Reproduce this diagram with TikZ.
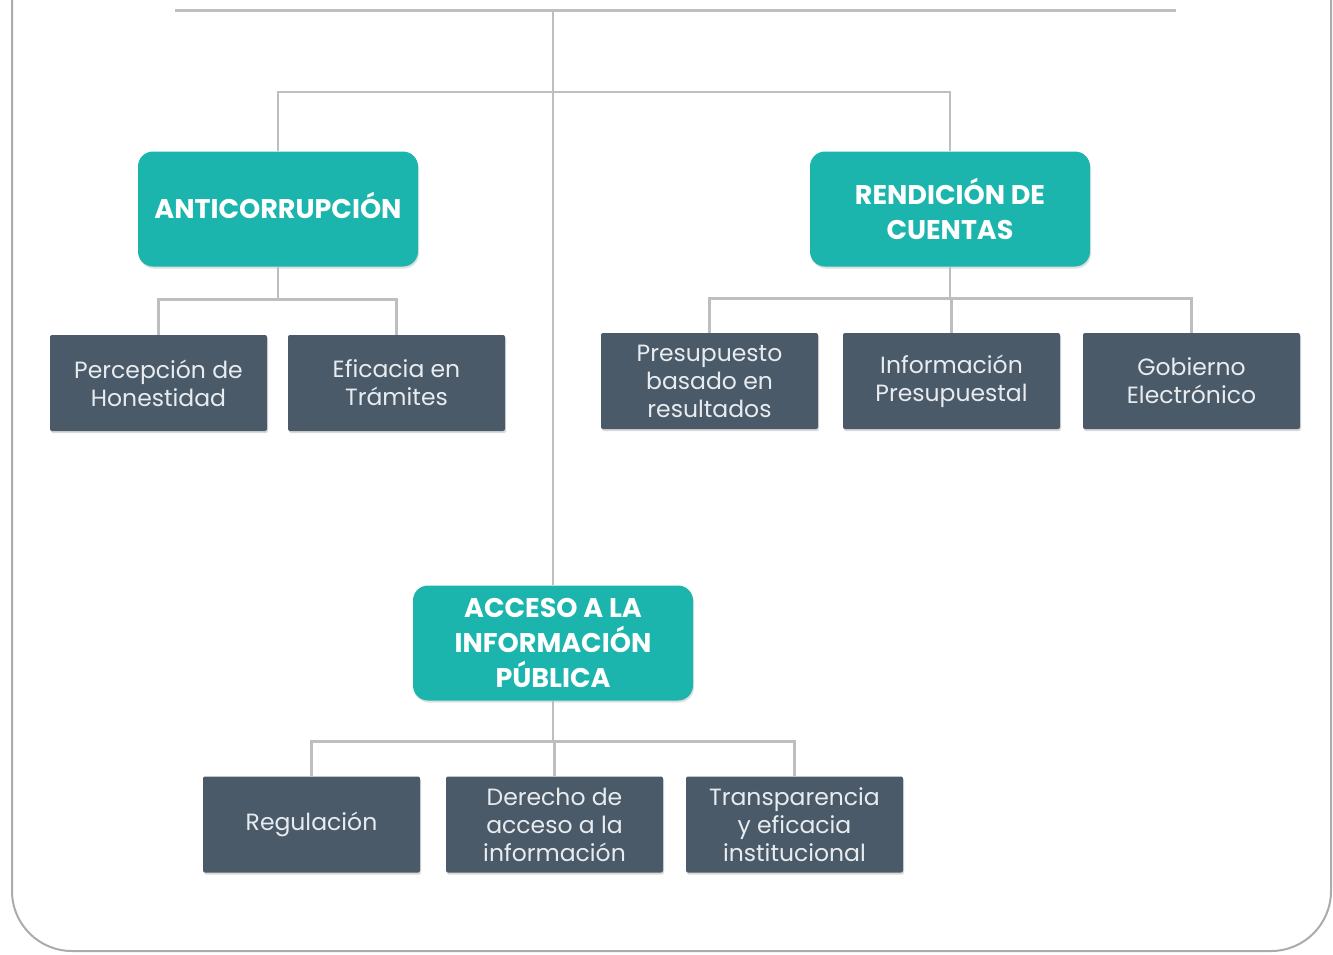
\documentclass[tikz,border=0pt]{standalone}
\usepackage{fontspec}
\setmainfont{Poppins}
\usetikzlibrary{shadows}
\definecolor{tealbox}{RGB}{27,181,174}
\definecolor{slatebox}{RGB}{74,90,104}
\definecolor{linegray}{RGB}{190,190,192}
\definecolor{subtext}{RGB}{232,236,240}
\tikzset{
  mainbox/.style={fill=tealbox, rounded corners=15pt, minimum width=280pt, minimum height=115pt,
    align=center, text=white, font=\fontsize{27}{35}\selectfont\bfseries,
    drop shadow={shadow xshift=1pt, shadow yshift=-2pt, opacity=0.25}},
  subbox/.style={fill=slatebox, rounded corners=2pt, minimum width=217pt, minimum height=96pt,
    align=center, text=subtext, font=\fontsize{23.5}{28}\selectfont,
    drop shadow={shadow xshift=1pt, shadow yshift=-2pt, opacity=0.3}},
  conn/.style={draw=linegray, line width=2.5pt}
}
\begin{document}
\begin{tikzpicture}[x=1pt, y=-1pt]
  \useasboundingbox (0,0) rectangle (1333,954);
  % Outer frame
  \draw[linegray!90!black, line width=2pt, rounded corners=60pt] (12,-80) rectangle (1331,951);
  % Title bar (cut off)
  \draw[linegray, line width=3pt] (175,10) -- (1176,10);
  \coordinate (titlebar) at (553,10);

  % Main branches
  \node[mainbox] (anti) at (278,209) {ANTICORRUPCIÓN\vphantom{g}};
  \node[mainbox] (rend) at (950,209) {RENDICIÓN DE\\CUENTAS};
  \node[mainbox] (acceso) at (553,643) {ACCESO A LA\\INFORMACIÓN\\PÚBLICA};

  % Sub topics
  \node[subbox] (perc) at (158.5,383) {Percepción de\\Honestidad};
  \node[subbox] (efic) at (396.5,383) {Eficacia en\\Trámites};
  \node[subbox] (presu) at (709.5,381) {Presupuesto\\basado en\\resultados};
  \node[subbox] (info) at (951.5,381) {Información\\Presupuestal};
  \node[subbox] (gob) at (1191.5,381) {Gobierno\\Electrónico};
  \node[subbox] (regu) at (311.5,824.5) {Regulación};
  \node[subbox] (dere) at (554.5,824.5) {Derecho de\\acceso a la\\información};
  \node[subbox] (trans) at (794.5,824.5) {Transparencia\\y eficacia\\institucional};

  \begin{scope}[on background layer/.try]
  % Connectors
  \draw[conn] (titlebar) -- (acceso.north);
  \draw[conn] (anti.north) |- (553,92) -| (rend.north);
  \foreach \s in {perc,efic} {
    \draw[conn] (anti.south) -- ++(0,33) -| (\s.north); % ANTICORRUPCIÓN
  }
  \foreach \s in {presu,info,gob} {
    \draw[conn] (rend.south) -- ++(0,32) -| (\s.north); % RENDICIÓN
  }
  \foreach \s in {regu,dere,trans} {
    \draw[conn] (acceso.south) -- ++(0,41) -| (\s.north); % ACCESO
  }
  \end{scope}
\end{tikzpicture}
\end{document}
